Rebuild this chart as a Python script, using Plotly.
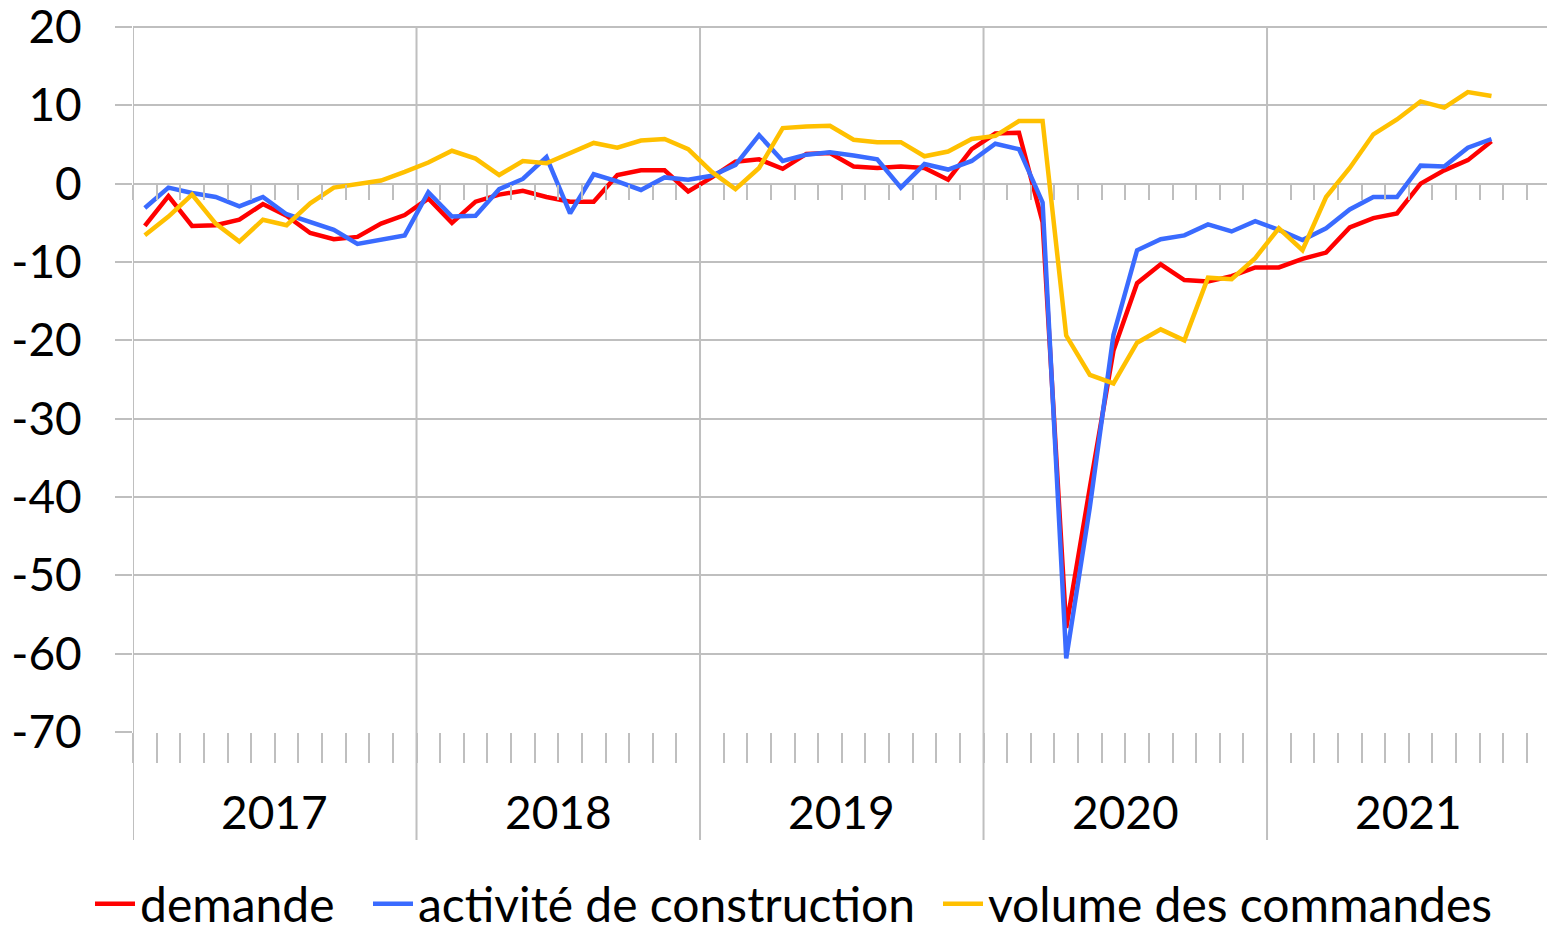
import plotly.graph_objects as go

years = ["2017", "2018", "2019", "2020", "2021"]
months = [f"{y}-{m:02d}" for y in range(2017, 2022) for m in range(1, 13)][:58]
y_ticks = [20, 10, 0, -10, -20, -30, -40, -50, -60, -70]

demande = [
    -5.4, -1.6, -5.4, -5.3, -4.6, -2.6, -4.1, -6.3, -7.1, -6.8, -5.1, -4.0,
    -1.9, -5.0, -2.3, -1.4, -0.9, -1.7, -2.3, -2.3, 1.1, 1.7, 1.7, -1.0,
    0.8, 2.8, 3.1, 1.9, 3.8, 3.9, 2.2, 2.0, 2.2, 2.0, 0.5, 4.4,
    6.4, 6.5, -4.9, -56.7, -38.8, -21.3, -12.7, -10.3, -12.3, -12.5, -11.8, -10.7,
    -10.7, -9.6, -8.8, -5.6, -4.4, -3.8, 0.0, 1.7, 3.0, 5.4,
]
activite = [
    -3.1, -0.5, -1.2, -1.7, -2.9, -1.7, -3.9, -4.9, -5.9, -7.7, -7.1, -6.6,
    -1.1, -4.2, -4.1, -0.7, 0.6, 3.4, -3.8, 1.2, 0.3, -0.8, 0.8, 0.5,
    1.0, 2.4, 6.2, 2.9, 3.7, 4.0, 3.6, 3.1, -0.5, 2.5, 1.8, 2.9,
    5.1, 4.4, -2.4, -60.6, -41.3, -19.3, -8.5, -7.1, -6.6, -5.2, -6.1, -4.8,
    -5.9, -7.2, -5.7, -3.3, -1.7, -1.7, 2.3, 2.2, 4.6, 5.7,
]
commandes = [
    -6.6, -4.2, -1.4, -5.1, -7.4, -4.6, -5.3, -2.5, -0.5, -0.1, 0.4, 1.5,
    2.7, 4.2, 3.2, 1.1, 2.9, 2.6, 3.9, 5.2, 4.6, 5.5, 5.7, 4.4,
    1.5, -0.7, 2.0, 7.1, 7.3, 7.4, 5.6, 5.3, 5.3, 3.5, 4.1, 5.7,
    6.1, 8.0, 8.0, -19.4, -24.4, -25.5, -20.3, -18.6, -20.0, -12.0, -12.2, -9.5,
    -5.7, -8.5, -1.7, 2.0, 6.3, 8.2, 10.5, 9.7, 11.7, 11.2,
]

series = [
    ("demande", demande, "#FF0000", "legend"),
    ("activité de construction", activite, "#3A6BFF", "legend2"),
    ("volume des commandes", commandes, "#FFC000", "legend3"),
]

FONT = "Lato"
GRID = "#BFBFBF"
x = list(range(len(months)))
bounds = [b - 0.5 for b in range(0, 61)]
xmax = 59.35
ytop = 20.255  # leaves 2 px above the 20 gridline so it is not clipped

fig = go.Figure()
for name, vals, col, lg in series:
    fig.add_trace(go.Scatter(x=x, y=vals, name=name, mode="lines",
                             line=dict(color=col, width=4.5), legend=lg,
                             customdata=months,
                             hovertemplate="%{customdata}: %{y}<extra>" + name + "</extra>"))

# invisible trace for the secondary (zero-line) tick axis
fig.add_trace(go.Scatter(x=[0], y=[0], xaxis="x2", mode="markers",
                         marker=dict(opacity=0), showlegend=False, hoverinfo="skip"))

yspan = ytop + 70
shapes = []
for k in range(5):
    shapes.append(dict(type="line", xref="x", yref="paper", x0=-0.5 + 12 * k, x1=-0.5 + 12 * k,
                       y0=-108 / 707, y1=(20 + 70) / yspan,
                       line=dict(color=GRID, width=2), layer="below"))

annotations = []
for k, yr in enumerate(years):
    annotations.append(dict(x=5.5 + 12 * k, y=-79 / 707, xref="x", yref="paper", text=yr,
                            showarrow=False, font=dict(family=FONT, size=46, color="#000000"),
                            xanchor="center", yanchor="middle"))


def legend_at(px):
    return dict(orientation="h", xref="container", x=px / 1547, xanchor="left",
                yref="container", y=23 / 927, yanchor="middle",
                font=dict(family=FONT, size=48, color="#000000"),
                itemwidth=40, bgcolor="rgba(0,0,0,0)", borderwidth=0)


fig.update_layout(
    width=1547, height=927,
    margin=dict(l=133, r=0, t=25, b=195, autoexpand=False),
    paper_bgcolor="white", plot_bgcolor="white",
    font=dict(family=FONT, size=46, color="#000000"),
    xaxis=dict(range=[-0.5, xmax], tickmode="array", tickvals=bounds, showticklabels=False,
               ticks="outside", ticklen=30, tickwidth=2, tickcolor=GRID,
               showgrid=False, zeroline=False, showline=False),
    xaxis2=dict(range=[-0.5, xmax], overlaying="x", anchor="free", position=70 / yspan,
                tickmode="array", tickvals=bounds, showticklabels=False,
                ticks="outside", ticklen=15, tickwidth=2, tickcolor=GRID,
                showgrid=False, zeroline=False, showline=False, side="bottom"),
    yaxis=dict(range=[-70, ytop], tickmode="array", tickvals=y_ticks,
               ticktext=[str(v) for v in y_ticks], ticklabeloverflow="allow",
               showgrid=True, gridcolor=GRID, gridwidth=2, zeroline=False,
               ticks="outside", ticklen=17, tickwidth=2, tickcolor=GRID,
               ticklabelstandoff=24, tickfont=dict(family=FONT, size=46)),
    legend=legend_at(90),
    legend2=legend_at(368),
    legend3=legend_at(938),
    shapes=shapes, annotations=annotations,
    showlegend=True,
)

fig.write_html("out.html", config={"displayModeBar": False},
               post_script="document.body.style.margin='0';")
